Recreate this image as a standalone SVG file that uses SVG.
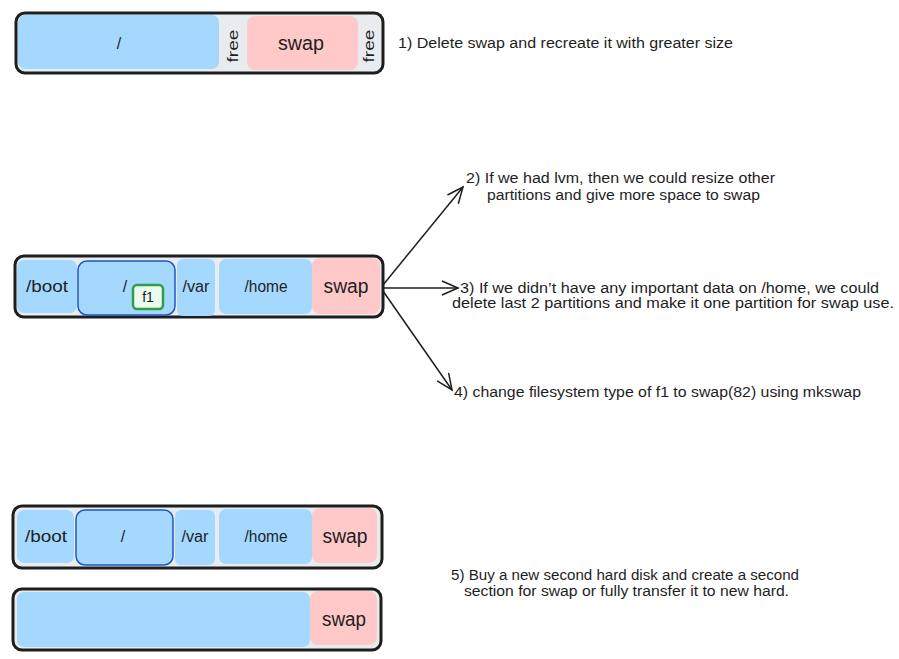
<svg xmlns="http://www.w3.org/2000/svg" width="899" height="659" viewBox="0 0 899 659">
<defs>
<style>
.disk{fill:#e9ecef;stroke:#1e1e1e;stroke-width:3}
.blue{fill:#a5d8ff;stroke:none}
.root{fill:#a5d8ff;stroke:#1f55c2;stroke-width:1.5}
.pink{fill:#ffc9c9;stroke:none}
.f1{fill:#ebfbee;stroke:#2f9e44;stroke-width:2.5}
.t{font-family:"Liberation Sans","DejaVu Sans",sans-serif;fill:#1e1e1e}
.lbl{font-size:16px;text-anchor:middle}
.sw{font-size:20px;text-anchor:middle}
.note{font-size:14px}
.conn{stroke:#1e1e1e;stroke-width:1.5;fill:none}
</style>
<marker id="arr" viewBox="0 0 20 20" refX="18" refY="10" markerWidth="20" markerHeight="20" markerUnits="userSpaceOnUse" orient="auto">
<path d="M2,3 L18,10 L2,17" fill="none" stroke="#1e1e1e" stroke-width="1.5"/>
</marker>
</defs>

<g id="disk1">
<rect class="disk" x="16" y="13" width="367" height="60" rx="9"/>
<rect class="blue" x="18" y="15" width="201" height="54" rx="7"/>
<rect class="pink" x="247" y="16" width="111" height="54" rx="8"/>
<text class="t lbl" x="119" y="49">/</text>
<text class="t sw" x="301" y="50" textLength="46" lengthAdjust="spacingAndGlyphs">swap</text>
<text class="t" font-size="15" text-anchor="middle" transform="translate(238,46) rotate(-90)" textLength="33" lengthAdjust="spacingAndGlyphs">free</text>
<text class="t" font-size="15" text-anchor="middle" transform="translate(374,46) rotate(-90)" textLength="33" lengthAdjust="spacingAndGlyphs">free</text>
</g>

<g id="note1">
<text class="t note" x="398" y="48" textLength="335" lengthAdjust="spacingAndGlyphs">1) Delete swap and recreate it with greater size</text>
</g>

<g id="disk2">
<rect class="disk" x="15" y="256" width="368" height="61" rx="9"/>
<rect class="blue" x="17" y="260" width="60" height="53" rx="7"/>
<rect class="root" x="78" y="261" width="97" height="54" rx="9"/>
<rect class="blue" x="177" y="259" width="38" height="57" rx="6"/>
<rect class="blue" x="219" y="259" width="93" height="55" rx="7"/>
<rect class="pink" x="312" y="258" width="68" height="56" rx="8"/>
<text class="t lbl" x="47" y="292" textLength="42" lengthAdjust="spacingAndGlyphs">/boot</text>
<text class="t lbl" x="125" y="292">/</text>
<text class="t lbl" font-size="14" x="196" y="292" textLength="27" lengthAdjust="spacingAndGlyphs">/var</text>
<text class="t lbl" x="266" y="292" textLength="43" lengthAdjust="spacingAndGlyphs">/home</text>
<text class="t sw" x="346" y="293" textLength="45" lengthAdjust="spacingAndGlyphs">swap</text>
</g>
<g id="f1">
<rect class="f1" x="133" y="285" width="30" height="24" rx="4"/>
<text class="t" font-size="14" text-anchor="middle" x="148" y="302">f1</text>
</g>

<g id="connectors">
<line class="conn" x1="383" y1="285" x2="463" y2="187" marker-end="url(#arr)"/>
<line class="conn" x1="383" y1="288" x2="458" y2="288" marker-end="url(#arr)"/>
<line class="conn" x1="383" y1="291" x2="452" y2="390" marker-end="url(#arr)"/>
</g>

<g id="note2">
<text class="t note" x="466" y="183" textLength="309" lengthAdjust="spacingAndGlyphs">2) If we had lvm, then we could resize other</text>
<text class="t note" x="487" y="200" textLength="273" lengthAdjust="spacingAndGlyphs">partitions and give more space to swap</text>
</g>
<g id="note3">
<text class="t note" x="460" y="293" textLength="419" lengthAdjust="spacingAndGlyphs">3) If we didn’t have any important data on /home, we could</text>
<text class="t note" x="452" y="308" textLength="442" lengthAdjust="spacingAndGlyphs">delete last 2 partitions and make it one partition for swap use.</text>
</g>
<g id="note4">
<text class="t note" x="454" y="397" textLength="407" lengthAdjust="spacingAndGlyphs">4) change filesystem type of f1 to swap(82) using mkswap</text>
</g>

<g id="disk3">
<rect class="disk" x="13" y="506" width="369" height="62" rx="9"/>
<rect class="blue" x="17" y="510" width="57" height="53" rx="7"/>
<rect class="root" x="76" y="510" width="97" height="55" rx="9"/>
<rect class="blue" x="175" y="510" width="40" height="55" rx="6"/>
<rect class="blue" x="219" y="509" width="93" height="55" rx="7"/>
<rect class="pink" x="312" y="508" width="65" height="55" rx="8"/>
<text class="t lbl" x="46" y="542" textLength="42" lengthAdjust="spacingAndGlyphs">/boot</text>
<text class="t lbl" x="123" y="542">/</text>
<text class="t lbl" font-size="14" x="195" y="542" textLength="27" lengthAdjust="spacingAndGlyphs">/var</text>
<text class="t lbl" x="266" y="542" textLength="43" lengthAdjust="spacingAndGlyphs">/home</text>
<text class="t sw" x="345" y="543" textLength="45" lengthAdjust="spacingAndGlyphs">swap</text>
</g>

<g id="disk4">
<rect class="disk" x="13" y="589" width="368" height="61" rx="9"/>
<rect class="blue" x="17" y="592" width="293" height="55" rx="7"/>
<rect class="pink" x="310" y="591" width="67" height="54" rx="8"/>
<text class="t sw" x="344" y="626" textLength="44" lengthAdjust="spacingAndGlyphs">swap</text>
</g>

<g id="note5">
<text class="t note" x="451" y="580" textLength="348" lengthAdjust="spacingAndGlyphs">5) Buy a new second hard disk and create a second</text>
<text class="t note" x="464" y="596" textLength="325" lengthAdjust="spacingAndGlyphs">section for swap or fully transfer it to new hard.</text>
</g>
</svg>
